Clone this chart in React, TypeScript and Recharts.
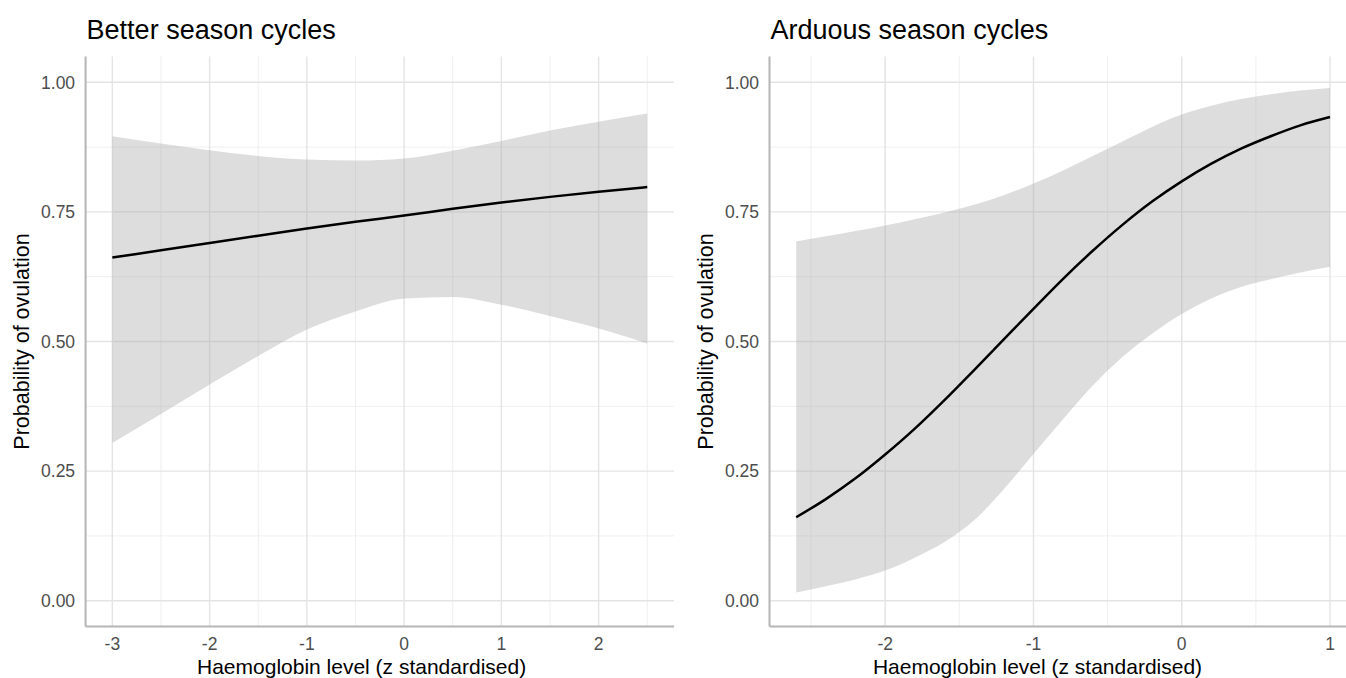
import { ComposedChart, Area, Line, XAxis, YAxis, CartesianGrid } from 'recharts';

// Better season panel
const betterX = [-3, -2.5, -2, -1.5, -1, -0.5, 0, 0.5, 1, 1.5, 2, 2.5];
const betterFit = [0.662, 0.676, 0.69, 0.704, 0.718, 0.731, 0.743, 0.756, 0.768, 0.779, 0.789, 0.798];
const betterLower = [0.304, 0.36, 0.417, 0.472, 0.523, 0.558, 0.583, 0.586, 0.571, 0.549, 0.525, 0.496];
const betterUpper = [0.896, 0.882, 0.869, 0.858, 0.851, 0.849, 0.853, 0.868, 0.887, 0.907, 0.924, 0.94];

// Arduous season panel
const arduousX = [-2.6, -2.4, -2.2, -2.0, -1.8, -1.6, -1.4, -1.2, -1.0, -0.8, -0.6, -0.4, -0.2, 0, 0.2, 0.4, 0.6, 0.8, 1.0];
const arduousFit = [0.161, 0.196, 0.236, 0.282, 0.332, 0.387, 0.445, 0.504, 0.563, 0.621, 0.675, 0.725, 0.77, 0.809, 0.843, 0.872, 0.896, 0.917, 0.933];
const arduousLower = [0.016, 0.028, 0.041, 0.058, 0.083, 0.113, 0.155, 0.215, 0.283, 0.35, 0.415, 0.47, 0.515, 0.553, 0.583, 0.605, 0.62, 0.633, 0.644];
const arduousUpper = [0.693, 0.703, 0.713, 0.724, 0.736, 0.749, 0.764, 0.782, 0.805, 0.83, 0.858, 0.886, 0.914, 0.938, 0.955, 0.968, 0.977, 0.984, 0.989];

const yTicks = [0, 0.25, 0.5, 0.75, 1];
const yMinor = [0.125, 0.375, 0.625, 0.875];
const betterTicks = [-3, -2, -1, 0, 1, 2];
const betterMinor = [-2.5, -1.5, -0.5, 0.5, 1.5, 2.5];
const arduousTicks = [-2, -1, 0, 1];
const arduousMinor = [-2.5, -1.5, -0.5, 0.5];

const FONT = "'Liberation Sans', Arial, Helvetica, sans-serif";
const H = 678;
const PLOT_TOP = 56.4;
const PLOT_BOTTOM = 626.6;
const Y_AXIS_W = 60;
const X_AXIS_H = 30;

const XTick = (p: any) => (
    <text x={p.x} y={p.y + 23.5} textAnchor="middle" fontSize={17.5} fill="#4d4d4d" fontFamily={FONT}>
        {String(p.payload.value)}
    </text>
);

const YTick = (p: any) => (
    <text x={p.x - 10.5} y={p.y} dy="0.355em" textAnchor="end" fontSize={17.5} fill="#4d4d4d" fontFamily={FONT}>
        {Number(p.payload.value).toFixed(2)}
    </text>
);

type PanelProps = {
    xs: number[];
    fit: number[];
    lower: number[];
    upper: number[];
    xDomain: [number, number];
    xTicks: number[];
    xMinor: number[];
    left: number;
    width: number;
    plotLeft: number;
    plotRight: number;
};

function Panel({ xs, fit, lower, upper, xDomain, xTicks, xMinor, left, width, plotLeft, plotRight }: PanelProps) {
    const rows = xs.map((x, i) => ({ x, fit: fit[i], band: [lower[i], upper[i]] }));
    return (
        <div style={{ position: 'absolute', left, top: 0 }}>
            <ComposedChart
                width={width}
                height={H}
                data={rows}
                margin={{
                    top: PLOT_TOP,
                    right: left + width - plotRight,
                    bottom: H - PLOT_BOTTOM - X_AXIS_H,
                    left: plotLeft - left - Y_AXIS_W,
                }}
            >
                <CartesianGrid horizontalValues={yMinor} verticalValues={xMinor} stroke="#efefef" strokeWidth={1} />
                <CartesianGrid horizontalValues={yTicks} verticalValues={xTicks} stroke="#e4e4e4" strokeWidth={1.4} />
                <XAxis
                    dataKey="x"
                    type="number"
                    domain={xDomain}
                    ticks={xTicks}
                    interval={0}
                    allowDataOverflow
                    tickLine={false}
                    tickSize={0}
                    tickMargin={0}
                    height={X_AXIS_H}
                    axisLine={{ stroke: '#b5b5b5', strokeWidth: 2 }}
                    tick={XTick}
                />
                <YAxis
                    type="number"
                    domain={[-0.05, 1.05]}
                    ticks={yTicks}
                    interval={0}
                    allowDataOverflow
                    tickLine={false}
                    tickSize={0}
                    tickMargin={0}
                    width={Y_AXIS_W}
                    axisLine={{ stroke: '#b5b5b5', strokeWidth: 2 }}
                    tick={YTick}
                />
                <Area
                    dataKey="band"
                    type="monotone"
                    stroke="none"
                    fill="#a6a6a6"
                    fillOpacity={0.38}
                    isAnimationActive={false}
                />
                <Line dataKey="fit" type="monotone" stroke="#000" strokeWidth={2.5} dot={false} isAnimationActive={false} />
            </ComposedChart>
        </div>
    );
}

const LEFT_PLOT = { left: 85.6, right: 674 };
const RIGHT_PLOT = { left: 769.5, right: 1356.7 };

export default function App() {
    const xTitle = 'Haemoglobin level (z standardised)';
    const yTitle = 'Probability of ovulation';
    const yMid = (PLOT_TOP + PLOT_BOTTOM) / 2;
    return (
        <div style={{ position: 'absolute', left: 0, top: 0, width: 1346, height: H, overflow: 'hidden', background: '#fff' }}>
            <Panel
                xs={betterX}
                fit={betterFit}
                lower={betterLower}
                upper={betterUpper}
                xDomain={[-3.275, 2.775]}
                xTicks={betterTicks}
                xMinor={betterMinor}
                left={0}
                width={680}
                plotLeft={LEFT_PLOT.left}
                plotRight={LEFT_PLOT.right}
            />
            <Panel
                xs={arduousX}
                fit={arduousFit}
                lower={arduousLower}
                upper={arduousUpper}
                xDomain={[-2.78, 1.18]}
                xTicks={arduousTicks}
                xMinor={arduousMinor}
                left={680}
                width={686}
                plotLeft={RIGHT_PLOT.left}
                plotRight={RIGHT_PLOT.right}
            />
            <svg width={1346} height={H} style={{ position: 'absolute', left: 0, top: 0, pointerEvents: 'none' }}>
                <g fontFamily={FONT} fill="#000">
                    <text x={LEFT_PLOT.left + 1} y={39} fontSize={27}>Better season cycles</text>
                    <text x={RIGHT_PLOT.left + 1} y={39} fontSize={27}>Arduous season cycles</text>
                    <text x={LEFT_PLOT.left + 276} y={673.5} fontSize={21} textAnchor="middle">{xTitle}</text>
                    <text x={RIGHT_PLOT.left + 268} y={673.5} fontSize={21} textAnchor="middle">{xTitle}</text>
                    <text x={LEFT_PLOT.left - 57} y={yMid} fontSize={21.5} textAnchor="middle" transform={`rotate(-90, ${LEFT_PLOT.left - 57}, ${yMid})`}>{yTitle}</text>
                    <text x={RIGHT_PLOT.left - 57} y={yMid} fontSize={21.5} textAnchor="middle" transform={`rotate(-90, ${RIGHT_PLOT.left - 57}, ${yMid})`}>{yTitle}</text>
                </g>
            </svg>
        </div>
    );
}
